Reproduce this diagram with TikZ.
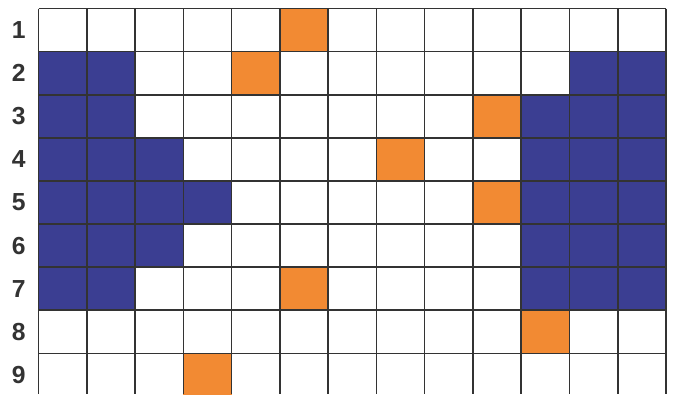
\documentclass[tikz,border=0pt]{standalone}
\usepackage{fontspec}
\setmainfont{Liberation Sans}
\usetikzlibrary{positioning}
\definecolor{cellblue}{HTML}{3B3E92}
\definecolor{cellorange}{HTML}{F28A33}
\definecolor{ink}{HTML}{333333}

\begin{document}
\begin{tikzpicture}[
  x=0.75pt, y=-0.75pt,
  rowlab/.style={font=\bfseries\fontsize{18.5}{21}\selectfont, text=ink},
  bluecell/.style={fill=cellblue},
  orangecell/.style={fill=cellorange},
  gridline/.style={draw=ink, line width=1.2pt}]
  \useasboundingbox (0,0) rectangle (674,394);
  \begin{scope}[shift={(38.5,8.5)}, x=36.2pt, y=-32.33pt]
    % blue blocks, left side
    \foreach \r/\n in {2/2,3/2,4/3,5/4,6/3,7/2}
      \fill[bluecell] (0,\r-1) rectangle (\n,\r);
    % blue blocks, right side
    \foreach \r/\s in {2/12,3/11,4/11,5/11,6/11,7/11}
      \fill[bluecell] (\s-1,\r-1) rectangle (13,\r);
    % orange cells
    \foreach \c/\r in {6/1,5/2,10/3,8/4,10/5,6/7,11/8,4/9}
      \fill[orangecell] (\c-1,\r-1) rectangle (\c,\r);
    % grid
    \foreach \r in {0,...,8}
      \draw[gridline] (0,\r) -- (13,\r);
    \foreach \c in {0,...,13}
      \draw[gridline] (\c,0) -- (\c,8.95);
    % row numbers
    \foreach \r in {1,...,9}
      \node[rowlab] (row\r) at (-0.41,\r-0.5) {\r};
  \end{scope}
\end{tikzpicture}
\end{document}
